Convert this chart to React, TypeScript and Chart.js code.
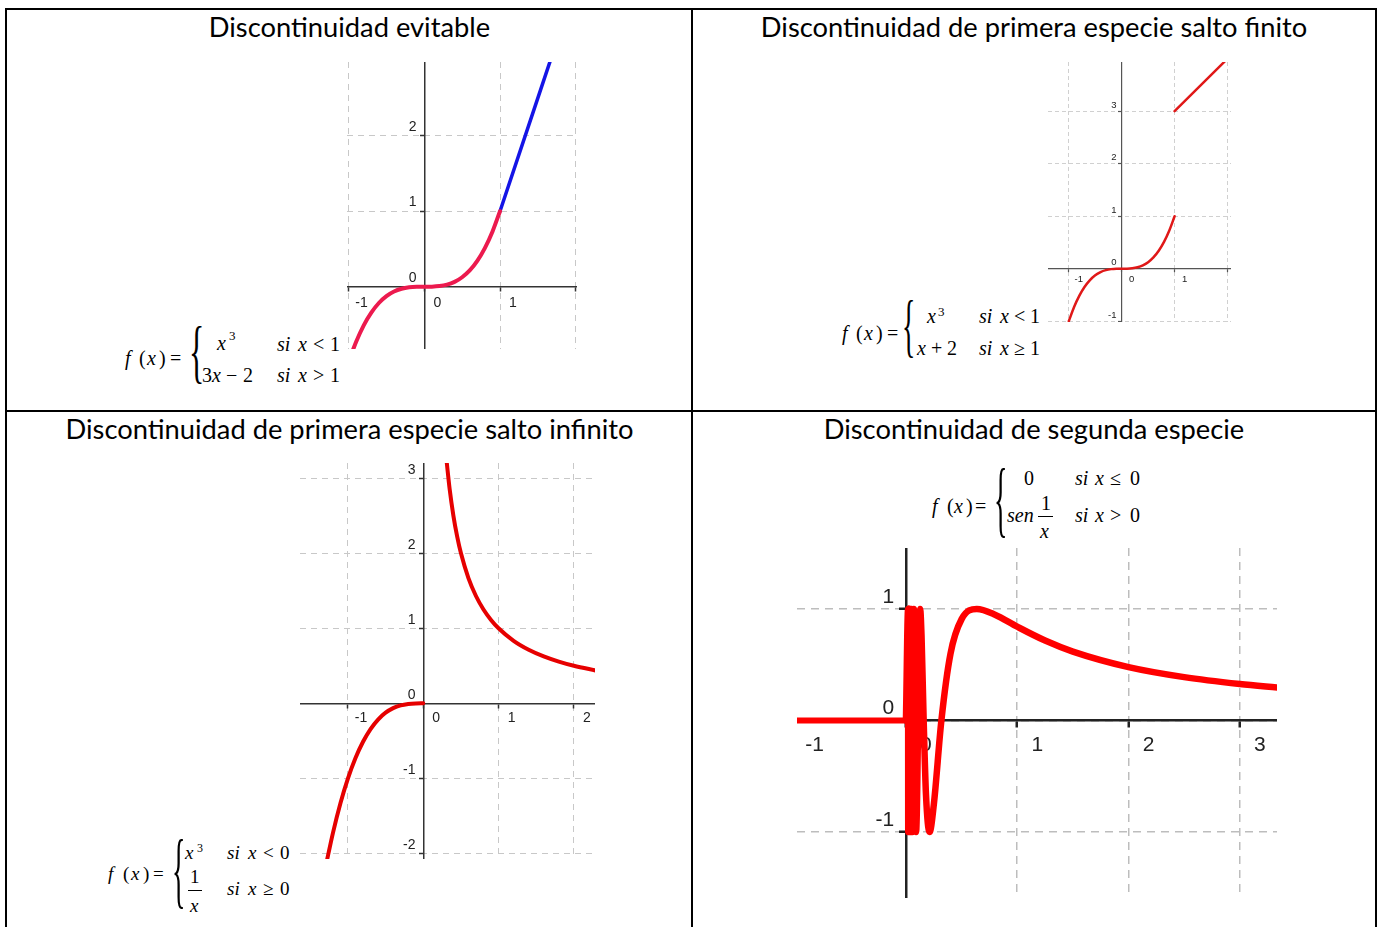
import React, { useEffect, useRef } from 'react';
import { Chart, registerables } from 'chart.js';

Chart.register(...registerables);

// ---------------- data ----------------
// Panel 1: discontinuidad evitable
const P1_CUBIC_X = [-0.96, -0.9, -0.8, -0.7, -0.6, -0.5, -0.4, -0.3, -0.2, -0.1, 0, 0.1, 0.2, 0.3, 0.4, 0.5, 0.6, 0.7, 0.8, 0.9, 1];
const P1_CUBIC_Y = [-0.885, -0.729, -0.512, -0.343, -0.216, -0.125, -0.064, -0.027, -0.008, -0.001, 0, 0.001, 0.008, 0.027, 0.064, 0.125, 0.216, 0.343, 0.512, 0.729, 1];
const P1_LINE_X = [1, 1.67];
const P1_LINE_Y = [1, 3.01];
const P1_X_TICKS = [-1, 0, 1, 2];
const P1_Y_TICKS = [0, 1, 2];

// Panel 2: salto finito
const P2_CUBIC_X = [-1, -0.9, -0.8, -0.7, -0.6, -0.5, -0.4, -0.3, -0.2, -0.1, 0, 0.1, 0.2, 0.3, 0.4, 0.5, 0.6, 0.7, 0.8, 0.9, 1];
const P2_CUBIC_Y = [-1, -0.729, -0.512, -0.343, -0.216, -0.125, -0.064, -0.027, -0.008, -0.001, 0, 0.001, 0.008, 0.027, 0.064, 0.125, 0.216, 0.343, 0.512, 0.729, 1];
const P2_LINE_X = [1, 1.96];
const P2_LINE_Y = [3, 3.96];
const P2_X_TICKS = [-1, 0, 1, 2];
const P2_Y_TICKS = [-1, 0, 1, 2, 3];

// Panel 3: salto infinito
const P3_CUBIC_X = [-1.28, -1.2, -1.1, -1, -0.9, -0.8, -0.7, -0.6, -0.5, -0.4, -0.3, -0.2, -0.1, 0];
const P3_CUBIC_Y = [-2.097, -1.728, -1.331, -1, -0.729, -0.512, -0.343, -0.216, -0.125, -0.064, -0.027, -0.008, -0.001, 0];
const P3_HYP_X = [0.31, 0.35, 0.4, 0.45, 0.5, 0.6, 0.7, 0.8, 0.9, 1, 1.2, 1.4, 1.6, 1.8, 2, 2.3];
const P3_HYP_Y = [3.226, 2.857, 2.5, 2.222, 2, 1.667, 1.429, 1.25, 1.111, 1, 0.833, 0.714, 0.625, 0.556, 0.5, 0.435];
const P3_X_TICKS = [-1, 0, 1, 2];
const P3_Y_TICKS = [-2, -1, 0, 1, 2, 3];

// Panel 4: segunda especie
const P4_ZERO_X = [-1.05, 0];
const P4_ZERO_Y = [0, 0];
const P4_SIN_X = [0, 0.0193, 0.0205, 0.022, 0.0236, 0.0255, 0.0277, 0.0303, 0.0335, 0.0374, 0.0424, 0.049, 0.0579, 0.0707, 0.0909, 0.1273, 0.14, 0.159, 0.18, 0.2122, 0.25, 0.3183, 0.4, 0.5, 0.6366, 0.8, 1, 1.25, 1.5, 2, 2.5, 3, 3.35];
const P4_SIN_Y = [0, 1, -1, 1, -1, 1, -1, 1, -1, 1, -1, 1, -1, 1, -1, 1, 0.758, 0.006, -0.665, -1, -0.757, 0, 0.598, 0.909, 1, 0.949, 0.841, 0.717, 0.618, 0.479, 0.389, 0.327, 0.294];
const P4_X_TICKS = [-1, 0, 1, 2, 3];
const P4_Y_TICKS = [-1, 0, 1];

// ---------------- config ----------------
const SANS = '"Liberation Sans", Arial, sans-serif';
const SERIF = '"Liberation Serif", "Times New Roman", serif';
const TITLE_FONT = 'Lato, "Open Sans", sans-serif';

type Series = { x: number[]; y: number[]; color: string; width: number };
type Panel = {
  left: number; top: number; width: number; height: number;
  xMin: number; xMax: number; yMin: number; yMax: number;
  xTicks: number[]; yTicks: number[];
  series: Series[];
  font: number; labelColor: string;
  xLabelOffset: number; xPad: number; yLabelOffset: number; yGap: number;
  axisColor: string; axisWidth: number; tickLen: number;
  gridColor: string; gridWidth: number; dash: number[];
};

const PANELS: Panel[] = [
  {
    left: 347, top: 62, width: 230, height: 287,
    xMin: -1.021, xMax: 2.017, yMin: -0.825, yMax: 2.976,
    xTicks: P1_X_TICKS, yTicks: P1_Y_TICKS,
    series: [
      { x: P1_CUBIC_X, y: P1_CUBIC_Y, color: '#ec1a4e', width: 4 },
      { x: P1_LINE_X, y: P1_LINE_Y, color: '#1414e6', width: 3.5 },
    ],
    font: 14, labelColor: '#222', xLabelOffset: 13, xPad: 4, yLabelOffset: -9, yGap: 2,
    axisColor: '#333', axisWidth: 1.5, tickLen: 4,
    gridColor: '#c8c8c8', gridWidth: 1, dash: [6, 5],
  },
  {
    left: 1048, top: 62, width: 183, height: 260,
    xMin: -1.393, xMax: 2.066, yMin: -1.015, yMax: 3.937,
    xTicks: P2_X_TICKS, yTicks: P2_Y_TICKS,
    series: [
      { x: P2_CUBIC_X, y: P2_CUBIC_Y, color: '#e01818', width: 2.5 },
      { x: P2_LINE_X, y: P2_LINE_Y, color: '#e01818', width: 2.5 },
    ],
    font: 9.5, labelColor: '#222', xLabelOffset: 10, xPad: 2, yLabelOffset: -6, yGap: 2,
    axisColor: '#555', axisWidth: 1.2, tickLen: 3,
    gridColor: '#d0d0d0', gridWidth: 1, dash: [4, 3],
  },
  {
    left: 300, top: 463, width: 295, height: 396,
    xMin: -1.637, xMax: 2.281, yMin: -2.073, yMax: 3.2,
    xTicks: P3_X_TICKS, yTicks: P3_Y_TICKS,
    series: [
      { x: P3_CUBIC_X, y: P3_CUBIC_Y, color: '#e60000', width: 4 },
      { x: P3_HYP_X, y: P3_HYP_Y, color: '#e60000', width: 4 },
    ],
    font: 14, labelColor: '#222', xLabelOffset: 13, xPad: 2, yLabelOffset: -8, yGap: 2,
    axisColor: '#333', axisWidth: 1.5, tickLen: 4,
    gridColor: '#c8c8c8', gridWidth: 1, dash: [6, 5],
  },
  {
    left: 797, top: 548, width: 480, height: 350,
    xMin: -0.979, xMax: 3.334, yMin: -1.592, yMax: 1.547,
    xTicks: P4_X_TICKS, yTicks: P4_Y_TICKS,
    series: [
      { x: P4_ZERO_X, y: P4_ZERO_Y, color: '#ff0000', width: 6 },
      { x: P4_SIN_X, y: P4_SIN_Y, color: '#ff0000', width: 6.5 },
    ],
    font: 21, labelColor: '#222', xLabelOffset: 20, xPad: 6, yLabelOffset: -12, yGap: 2,
    axisColor: '#222', axisWidth: 2.5, tickLen: 6,
    gridColor: '#bdbdbd', gridWidth: 1.5, dash: [8, 6],
  },
];

function ChartPanel({ p }: { p: Panel }) {
  const ref = useRef<HTMLCanvasElement>(null);
  useEffect(() => {
    if (!ref.current) return;
    const scale = (axis: 'x' | 'y') => {
      const isX = axis === 'x';
      const ticks = isX ? p.xTicks : p.yTicks;
      return {
        type: 'linear',
        min: isX ? p.xMin : p.yMin,
        max: isX ? p.xMax : p.yMax,
        position: isX ? { y: 0 } : { x: 0 },
        afterBuildTicks: (s: any) => { s.ticks = ticks.map((v) => ({ value: v })); },
        afterFit: (s: any) => { s.paddingLeft = 0; s.paddingRight = 0; s.paddingTop = 0; s.paddingBottom = 0; },
        grid: {
          color: p.gridColor, lineWidth: p.gridWidth,
          tickColor: p.axisColor, tickWidth: p.axisWidth, tickLength: p.tickLen,
        },
        border: { color: p.axisColor, width: p.axisWidth, dash: p.dash },
        ticks: {
          autoSkip: false, maxRotation: 0, minRotation: 0,
          color: p.labelColor,
          font: { family: SANS, size: p.font },
          padding: isX ? p.xPad : 0,
          labelOffset: isX ? p.xLabelOffset : p.yLabelOffset,
          callback: (v: any) => (isX ? String(v) : String(v) + ' '.repeat(p.yGap)),
        },
      };
    };
    const chart = new Chart(ref.current, {
      type: 'scatter',
      data: {
        datasets: p.series.map((s) => ({
          data: s.x.map((x, i) => ({ x, y: s.y[i] })),
          showLine: true,
          borderColor: s.color,
          backgroundColor: s.color,
          borderWidth: s.width,
          pointRadius: 0,
          pointHoverRadius: 0,
          cubicInterpolationMode: 'monotone',
          borderJoinStyle: 'round',
          borderCapStyle: 'round',
          fill: false,
        })),
      },
      options: {
        responsive: false,
        maintainAspectRatio: false,
        animation: false,
        events: [],
        layout: { padding: 0 },
        plugins: { legend: { display: false }, tooltip: { enabled: false }, title: { display: false } },
        scales: { x: scale('x'), y: scale('y') } as any,
      },
    } as any);
    return () => chart.destroy();
  }, [p]);
  return (
    <canvas
      ref={ref}
      width={p.width}
      height={p.height}
      style={{ position: 'absolute', left: p.left, top: p.top, width: p.width, height: p.height }}
    />
  );
}

// ---------------- formula helpers ----------------
type Glyph = [string, number, number, number?, boolean?];

function Glyphs({ items, size }: { items: Glyph[]; size: number }) {
  return (
    <>
      {items.map(([t, x, b, s, it], i) => {
        const fs = s || size;
        return (
          <span
            key={i}
            style={{
              position: 'absolute', left: x, top: b - 0.8375 * fs, fontSize: fs, lineHeight: 1,
              fontFamily: SERIF, fontStyle: it ? 'italic' : 'normal', whiteSpace: 'nowrap', color: '#000',
            }}
          >
            {t}
          </span>
        );
      })}
    </>
  );
}

function Brace({ x, top, h, w }: { x: number; top: number; h: number; w: number }) {
  const size = h / 0.861;
  const sx = w / (0.25 * size);
  return (
    <span
      style={{
        position: 'absolute', left: x - 0.1 * size * sx, top: top - 0.1575 * size, fontSize: size, lineHeight: 1,
        fontFamily: SERIF, transform: `scaleX(${sx})`, transformOrigin: 'left top', color: '#000',
      }}
    >
      {'{'}
    </span>
  );
}

function Bar({ x1, x2, y }: { x1: number; x2: number; y: number }) {
  return <div style={{ position: 'absolute', left: x1, top: y - 0.5, width: x2 - x1, height: 1, background: '#000' }} />;
}

const F1: Glyph[] = [
  ['f', 125, 365, 0, true], ['(', 139, 365], ['x', 147, 365, 0, true], [')', 159, 365], ['=', 170, 365],
  ['x', 217, 350, 0, true], ['3', 229, 340, 13],
  ['si', 277, 351, 0, true], ['x', 298, 351, 0, true], ['<', 313, 351], ['1', 330, 351],
  ['3', 202, 382], ['x', 212, 382, 0, true], ['\u2212', 226, 382], ['2', 243, 382],
  ['si', 277, 382, 0, true], ['x', 298, 382, 0, true], ['>', 313, 382], ['1', 330, 382],
];
const F2: Glyph[] = [
  ['f', 842, 340, 0, true], ['(', 856, 340], ['x', 864, 340, 0, true], [')', 876, 340], ['=', 887, 340],
  ['x', 927, 323, 0, true], ['3', 938, 316, 13],
  ['si', 979, 323, 0, true], ['x', 1000, 323, 0, true], ['<', 1014, 323], ['1', 1030, 323],
  ['x', 917, 355, 0, true], ['+', 931, 355], ['2', 947, 355],
  ['si', 979, 355, 0, true], ['x', 1000, 355, 0, true], ['\u2265', 1014, 355], ['1', 1030, 355],
];
const F3: Glyph[] = [
  ['f', 108, 880, 0, true], ['(', 123, 880], ['x', 131, 880, 0, true], [')', 143, 880], ['=', 153, 880],
  ['x', 185, 859, 0, true], ['3', 197, 852, 12],
  ['si', 227, 859, 0, true], ['x', 248, 859, 0, true], ['<', 263, 859], ['0', 280, 859],
  ['1', 190, 883], ['x', 190, 912, 0, true],
  ['si', 227, 895, 0, true], ['x', 248, 895, 0, true], ['\u2265', 263, 895], ['0', 280, 895],
];
const F4: Glyph[] = [
  ['f', 932, 513, 0, true], ['(', 947, 513], ['x', 954, 513, 0, true], [')', 966, 513], ['=', 975, 513],
  ['0', 1024, 485],
  ['si', 1075, 485, 0, true], ['x', 1095, 485, 0, true], ['\u2264', 1110, 485], ['0', 1130, 485],
  ['sen', 1007, 522, 0, true], ['1', 1041, 510], ['x', 1040, 538, 0, true],
  ['si', 1075, 522, 0, true], ['x', 1095, 522, 0, true], ['>', 1110, 522], ['0', 1130, 522],
];

const TITLES: [string, number, number, number][] = [
  ['Discontinuidad evitable', 7, 685, 37],
  ['Discontinuidad de primera especie salto finito', 693, 682, 37],
  ['Discontinuidad de primera especie salto infinito', 7, 685, 439],
  ['Discontinuidad de segunda especie', 693, 682, 439],
];

function Line({ l, t, w, h }: { l: number; t: number; w: number; h: number }) {
  return <div style={{ position: 'absolute', left: l, top: t, width: w, height: h, background: '#000' }} />;
}

export default function App() {
  const ts = 27.3;
  return (
    <div style={{ position: 'absolute', left: 0, top: 0, width: 1384, height: 927, overflow: 'hidden', background: '#fff' }}>
      <Line l={5} t={8} w={1372} h={2} />
      <Line l={5} t={8} w={2} h={919} />
      <Line l={1375} t={8} w={2} h={919} />
      <Line l={691} t={8} w={2} h={919} />
      <Line l={5} t={410} w={1372} h={2} />
      {TITLES.map(([t, l, w, b], i) => (
        <div
          key={i}
          style={{
            position: 'absolute', left: l, width: w, top: b - 0.887 * ts, fontSize: ts, lineHeight: 1,
            textAlign: 'center', fontFamily: TITLE_FONT, color: '#000', whiteSpace: 'nowrap',
          }}
        >
          {t}
        </div>
      ))}
      {PANELS.map((p, i) => <ChartPanel key={i} p={p} />)}
      <Glyphs items={F1} size={20} />
      <Brace x={192} top={328} h={60} w={8} />
      <Glyphs items={F2} size={20} />
      <Brace x={905} top={302} h={60} w={7} />
      <Glyphs items={F3} size={19} />
      <Brace x={175} top={840} h={73} w={7} />
      <Bar x1={188} x2={202} y={890.5} />
      <Glyphs items={F4} size={20} />
      <Brace x={997} top={470} h={72} w={7} />
      <Bar x1={1038} x2={1053} y={516.5} />
    </div>
  );
}
